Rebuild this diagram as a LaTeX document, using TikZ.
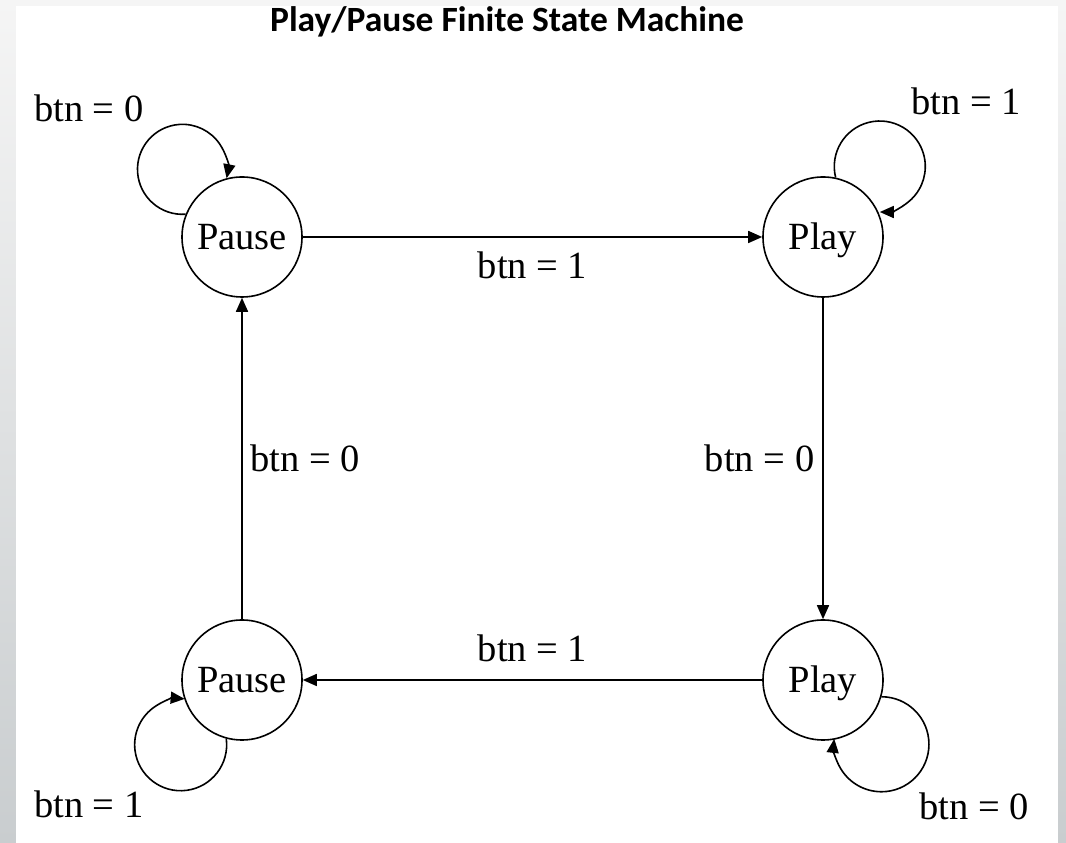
\documentclass[tikz,border=0pt]{standalone}
\usepackage{fontspec}
\setmainfont{Liberation Serif}
\newfontfamily\headfont{Carlito}
\usetikzlibrary{arrows.meta}
\definecolor{bgtop}{HTML}{F5F5F5}
\definecolor{bgbot}{HTML}{C9CDCF}

\begin{document}
\begin{tikzpicture}[x=1pt,y=1pt,line width=1.6pt,>={Triangle[length=14pt,width=12pt]},
  every node/.style={font=\fontsize{38.5}{40}\selectfont},
  state/.style={circle,draw,minimum size=120pt,inner sep=0pt,text height=25.5pt,text depth=0pt}]
  \useasboundingbox (0,0) rectangle (1066,843);
  \shade[top color=bgtop,bottom color=bgbot] (0,0) rectangle (1066,843);
  \fill[white] (16,0) rectangle (1058,837);
  \node[anchor=base,font=\headfont\bfseries\fontsize{35.5}{38}\selectfont] (title) at (507,811) {Play/Pause Finite State Machine};
  % states
  \node[state] (pause1) at (242,606) {Pause};
  \node[state] (play1) at (823,606) {Play};
  \node[state] (play2) at (823,163) {Play};
  \node[state] (pause2) at (242,163) {Pause};
  % transitions
  \draw[->] (pause1) -- (play1) node[midway,below=10.5pt] (t1) {btn = 1};
  \draw[->] (play1) -- (play2) node[midway,left=4.5pt] (t2) {btn = 0};
  \draw[->] (play2) -- (pause2) node[midway,above=13.5pt] (t3) {btn = 1};
  \draw[->] (pause2) -- (pause1) node[midway,right=4.5pt] (t4) {btn = 0};
  % self loops
  \draw[->] (pause1.158.4) arc[start angle=274,end angle=-11.4,radius=45];
  \draw[->] (play1.78.5) arc[start angle=194,end angle=-90,radius=45.5];
  \draw[->] (pause2.255) arc[start angle=7.5,end angle=-275,radius=46];
  \draw[->] (play2.-16.5) arc[start angle=90,end angle=-186.5,radius=47.5];
  \node[anchor=base west] (l1) at (30,721) {btn = 0};
  \node[anchor=base east] (l2) at (1025,728) {btn = 1};
  \node[anchor=base west] (l3) at (30,25) {btn = 1};
  \node[anchor=base east] (l4) at (1033,23) {btn = 0};
\end{tikzpicture}
\end{document}
